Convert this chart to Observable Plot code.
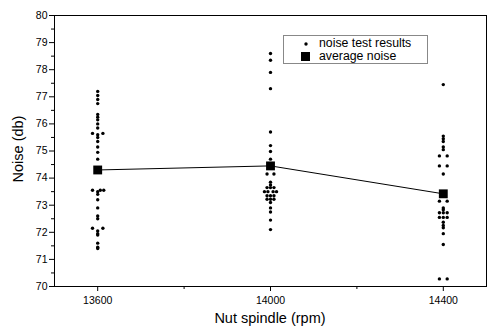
<!DOCTYPE html>
<html>
<head>
<meta charset="utf-8">
<script src="https://cdn.jsdelivr.net/npm/d3@7"></script>
<script src="https://cdn.jsdelivr.net/npm/@observablehq/plot@0.6"></script>
<style>
  html, body { margin: 0; padding: 0; background: #fff; }
  #wrap { position: relative; width: 488px; height: 329px; font-family: "Liberation Sans", Arial, sans-serif; }
  #legend { position: absolute; left: 283px; top: 35px; width: 143px; height: 27px; border: 1px solid #888; background: #fff; font-size: 12.3px; color: #000; }
  .row { position: absolute; left: 0; height: 13px; line-height: 13px; }
  .sym { position: absolute; left: 17px; }
  .txt { position: absolute; left: 35px; white-space: nowrap; }
</style>
</head>
<body>
<div id="wrap"></div>
<script>
// Speeds (rpm) and averages
const speeds = [13600, 14000, 14400];
const averages = [74.3, 74.45, 73.42];

// Individual noise test results: [noise (db), horizontal offset (rpm)]
const results13600 = [
  [77.2,0],[77.05,0],[76.9,0],[76.75,0],[76.35,0],[76.25,0],[76.15,0],[76.0,0],[75.85,0],
  [75.65,-12],[75.65,12],[75.6,0],[75.5,0],[75.35,0],[75.15,0],[74.95,0],[74.7,0],
  [73.55,-12],[73.55,6],[73.55,14],[73.5,0],[73.4,0],[73.2,0],[72.9,0],[72.6,0],[72.5,0],
  [72.15,-12],[72.15,12],[72.05,0],[71.95,0],[71.9,0],[71.6,0],[71.45,0],[71.4,0]
];
const results14000 = [
  [78.6,0],[78.35,0],[77.9,0],[77.3,0],[75.7,0],[75.2,0],[74.98,0],[74.7,0],
  [74.15,-8],[74.15,8],[73.85,0],[73.75,0],[73.65,-8],[73.65,0],[73.65,8],
  [73.5,-14],[73.5,-6],[73.5,6],[73.5,14],[73.35,-8],[73.35,0],[73.35,8],
  [73.22,-8],[73.22,0],[73.22,8],[73.1,0],[72.9,0],[72.75,0],[72.45,0],[72.1,0]
];
const results14400 = [
  [77.45,0],[75.55,0],[75.45,0],[75.35,0],[75.15,0],[75.05,0],[74.82,-9],[74.82,9],
  [74.45,-9],[74.45,9],[74.15,0],[73.15,-9],[73.15,9],[72.9,0],[72.83,0],
  [72.72,-9],[72.72,0],[72.72,9],[72.55,-9],[72.55,0],[72.55,9],[72.37,0],[72.25,0],
  [72.17,0],[71.95,0],[71.55,0],[70.28,-9],[70.28,9]
];

const xTicks = [13600, 14000, 14400];
const xMinorTicks = [13800, 14200];
const yTicks = d3.range(70, 81, 1);
const yMinorTicks = d3.range(70.5, 80, 1);

const groups = [results13600, results14000, results14400];
const points = groups.flatMap((g, i) => g.map(([v, off]) => ({x: speeds[i] + off, y: v})));
const avg = speeds.map((s, i) => ({x: s, y: averages[i]}));

const chart = Plot.plot({
  width: 488,
  height: 329,
  marginLeft: 54,
  marginRight: 2,
  marginTop: 15,
  marginBottom: 43,
  style: {fontFamily: "'Liberation Sans', Arial, sans-serif", fontSize: "10px", color: "#000", background: "#fff"},
  x: {domain: [13500, 14500]},
  y: {domain: [70, 80]},
  marks: [
    Plot.axisY({ticks: yTicks, tickSize: 5, tickPadding: 2, fontSize: 10.5, label: null}),
    Plot.axisY({ticks: yMinorTicks, tickSize: 3, tickFormat: () => "", label: null}),
    Plot.axisX({ticks: xTicks, tickSize: 5, tickPadding: 5, fontSize: 10.5, tickFormat: d => String(d), label: null}),
    Plot.axisX({ticks: xMinorTicks, tickSize: 3, tickFormat: () => "", label: null}),
    Plot.frame({stroke: "#000", strokeWidth: 1}),
    Plot.line(avg, {x: "x", y: "y", stroke: "#000", strokeWidth: 1}),
    Plot.dot(points, {x: "x", y: "y", r: 1.7, fill: "#000", stroke: null}),
    Plot.dot(avg, {x: "x", y: "y", symbol: "square", r: 5, fill: "#000", stroke: null})
  ]
});

const wrap = document.getElementById("wrap");
chart.style.position = "absolute";
chart.style.left = "0";
chart.style.top = "0";
wrap.appendChild(chart);

// axis titles
const xt = document.createElement("div");
xt.textContent = "Nut spindle (rpm)";
xt.style.cssText = "position:absolute;left:54px;width:432px;top:310px;text-align:center;font-size:14.5px;";
wrap.appendChild(xt);
const yt = document.createElement("div");
yt.textContent = "Noise (db)";
yt.style.cssText = "position:absolute;left:-42px;top:141px;width:120px;text-align:center;font-size:14.5px;transform:rotate(-90deg);";
wrap.appendChild(yt);

// legend
const legend = document.createElement("div");
legend.id = "legend";
legend.innerHTML =
  '<div class="row" style="top:1px"><span class="sym"><svg width="10" height="13"><circle cx="5" cy="7" r="1.7" fill="#000"/></svg></span><span class="txt">noise test results</span></div>' +
  '<div class="row" style="top:14px"><span class="sym"><svg width="10" height="13"><rect x="0" y="2" width="9" height="9" fill="#000"/></svg></span><span class="txt">average noise</span></div>';
wrap.appendChild(legend);
</script>
</body>
</html>
